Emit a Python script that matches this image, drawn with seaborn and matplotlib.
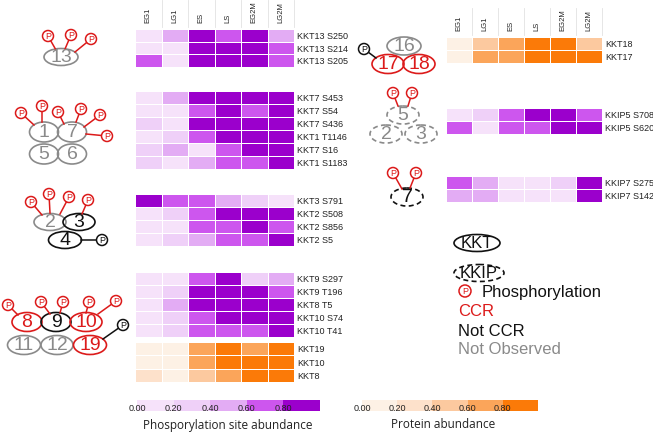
import matplotlib.pyplot as plt
import matplotlib.patches as mpatches
from matplotlib.colors import ListedColormap, Normalize
from matplotlib.cm import ScalarMappable
import pandas as pd
import seaborn as sns

# ---- data (binned abundance, 0..1) ----
phases = ['EG1', 'LG1', 'ES', 'LS', 'EG2M', 'LG2M']

kkt13_sites = ['KKT13 S250', 'KKT13 S214', 'KKT13 S205']
kkt13_vals = [[0.1, 0.5, 0.9, 0.7, 0.9, 0.5],
              [0.1, 0.1, 0.9, 0.9, 0.9, 0.7],
              [0.7, 0.1, 0.9, 0.9, 0.9, 0.7]]

kkt17_sites = ['KKT7 S453', 'KKT7 S54', 'KKT7 S436', 'KKT1 T1146', 'KKT7 S16', 'KKT1 S1183']
kkt17_vals = [[0.1, 0.5, 0.9, 0.9, 0.9, 0.9],
              [0.1, 0.1, 0.7, 0.9, 0.7, 0.9],
              [0.3, 0.1, 0.9, 0.9, 0.9, 0.9],
              [0.1, 0.3, 0.7, 0.9, 0.9, 0.9],
              [0.3, 0.5, 0.1, 0.7, 0.9, 0.9],
              [0.3, 0.1, 0.5, 0.7, 0.7, 0.9]]

kkt23_sites = ['KKT3 S791', 'KKT2 S508', 'KKT2 S856', 'KKT2 S5']
kkt23_vals = [[0.9, 0.7, 0.7, 0.5, 0.3, 0.1],
              [0.1, 0.3, 0.7, 0.9, 0.9, 0.9],
              [0.1, 0.1, 0.7, 0.7, 0.9, 0.7],
              [0.1, 0.3, 0.5, 0.7, 0.7, 0.9]]

kkt810_sites = ['KKT9 S297', 'KKT9 T196', 'KKT8 T5', 'KKT10 S74', 'KKT10 T41']
kkt810_vals = [[0.1, 0.1, 0.7, 0.9, 0.3, 0.5],
               [0.1, 0.3, 0.9, 0.9, 0.9, 0.7],
               [0.1, 0.5, 0.9, 0.9, 0.9, 0.9],
               [0.1, 0.3, 0.7, 0.9, 0.9, 0.9],
               [0.1, 0.3, 0.7, 0.7, 0.7, 0.9]]

kkt810_prot = ['KKT19', 'KKT10', 'KKT8']
kkt810_prot_vals = [[0.1, 0.1, 0.7, 0.9, 0.7, 0.9],
                    [0.1, 0.1, 0.7, 0.9, 0.9, 0.9],
                    [0.3, 0.1, 0.5, 0.7, 0.9, 0.9]]

kkt1718_prot = ['KKT18', 'KKT17']
kkt1718_prot_vals = [[0.1, 0.5, 0.7, 0.9, 0.9, 0.5],
                     [0.1, 0.7, 0.7, 0.9, 0.9, 0.9]]

kkip5_sites = ['KKIP5 S708', 'KKIP5 S620']
kkip5_vals = [[0.1, 0.3, 0.7, 0.9, 0.9, 0.7],
              [0.7, 0.1, 0.7, 0.7, 0.9, 0.9]]

kkip7_sites = ['KKIP7 S275', 'KKIP7 S142']
kkip7_vals = [[0.7, 0.5, 0.1, 0.1, 0.3, 0.9],
              [0.5, 0.5, 0.1, 0.1, 0.1, 0.9]]

cbar_ticks = [0.0, 0.2, 0.4, 0.6, 0.8]

# ---- style ----
purples = ListedColormap(['#f6e2fa', '#efd0f8', '#e3acf4', '#cd56ee', '#9b00cc'])
oranges = ListedColormap(['#fdf1e5', '#fde1cb', '#fcc99f', '#fba55a', '#fb7a08'])
RED, GREY, BLACK = '#dc1a1a', '#8a8a8a', '#111111'
FONT = 'Liberation Sans'

W, H = 653, 432
fig = plt.figure(figsize=(W / 100, H / 100), dpi=100)
plt.rcParams['font.family'] = [FONT, 'DejaVu Sans']


def px_axes(x0, y0, x1, y1):
    return fig.add_axes([x0 / W, 1 - y1 / H, (x1 - x0) / W, (y1 - y0) / H])


def heat(vals, rows, box, cmap, header=False):
    ax = px_axes(*box)
    df = pd.DataFrame(vals, index=rows, columns=phases)
    sns.heatmap(df, ax=ax, cmap=cmap, vmin=0, vmax=1, cbar=False,
                linewidths=0.6, linecolor='white',
                xticklabels=True, yticklabels=True)
    ax.yaxis.tick_right()
    ax.tick_params(axis='y', length=0, pad=2, labelsize=6.5, labelcolor='#222222')
    plt.setp(ax.get_yticklabels(), rotation=0)
    if header:
        ax.xaxis.tick_top()
        ax.tick_params(axis='x', length=0, pad=4, labelsize=5.5, labelcolor='#222222')
        plt.setp(ax.get_xticklabels(), rotation=90)
    else:
        ax.set_xticks([])
    ax.set_xlabel('')
    ax.set_ylabel('')
    return ax


# left column
heat(kkt13_vals, kkt13_sites, (135, 29, 294, 67), purples, header=True)
heat(kkt17_vals, kkt17_sites, (135, 91, 294, 169), purples)
heat(kkt23_vals, kkt23_sites, (135, 194, 294, 246), purples)
heat(kkt810_vals, kkt810_sites, (135, 272, 294, 337), purples)
heat(kkt810_prot_vals, kkt810_prot, (135, 342, 294, 382), oranges)
# right column
heat(kkt1718_prot_vals, kkt1718_prot, (446, 37, 602, 63), oranges, header=True)
heat(kkip5_vals, kkip5_sites, (446, 108, 602, 134), purples)
heat(kkip7_vals, kkip7_sites, (446, 176, 602, 202), purples)

# colorbars
for cmap, box, label, lx in [(purples, (137, 400, 320, 411), 'Phosporylation site abundance', 228),
                             (oranges, (362, 400, 538, 411), 'Protein abundance', 443)]:
    cax = px_axes(*box)
    cb = fig.colorbar(ScalarMappable(norm=Normalize(0, 1), cmap=cmap), cax=cax,
                      orientation='horizontal', ticks=cbar_ticks, format='%.2f')
    cb.outline.set_visible(False)
    cax.tick_params(length=0, pad=-5, labelsize=6.5, labelcolor='#222222')
    fig.text(lx / W, 1 - 425 / H, label, ha='center', va='center',
             fontsize=8.5, family=['Open Sans', 'DejaVu Sans'], color='#222222')

# ---- overlay for the complex diagrams ----
ov = fig.add_axes([0, 0, 1, 1])
ov.set_xlim(0, W)
ov.set_ylim(H, 0)
ov.axis('off')
ov.set_zorder(10)
ov.patch.set_alpha(0)

# header guide lines
for x0, step, top, bot in [(135, 26.5, 0, 27), (446, 26, 8, 35)]:
    for k in range(1, 7):
        ov.plot([x0 + k * step] * 2, [top, bot], color='#e2e2e2', lw=0.6)


def sub(x, y, label, color, w=30, h=18, dashed=False, fs=14):
    ls = (0, (3, 2)) if dashed else '-'
    ov.add_patch(mpatches.Ellipse((x, y), w, h, fill=False, ec=color, lw=1.2, ls=ls))
    ov.text(x, y + 0.5, label, color=color, fontsize=fs, ha='center', va='center')


def phos(x, y, tx, ty, color=RED, r=5.5):
    ov.plot([x, tx], [y, ty], color=color, lw=1.1)
    ov.add_patch(mpatches.Circle((x, y), r, fc='white', ec=color, lw=1.1, zorder=3))
    ov.text(x, y + 0.3, 'P', color=color, fontsize=6.5, ha='center', va='center', zorder=4)


# KKT13
phos(48, 36, 56, 50); phos(71, 35, 65, 49); phos(91, 39, 75, 52)
sub(61, 57, '13', GREY, w=34, h=17)

# KKT1/7/5/6
phos(21, 113, 34, 125); phos(42, 106, 42, 122); phos(58, 112, 64, 124)
phos(81, 109, 76, 122); phos(100, 115, 84, 127); phos(107, 136, 86, 134)
sub(44, 132, '1', GREY, w=29, h=20); sub(72, 132, '7', GREY, w=29, h=20)
sub(44, 154, '5', GREY, w=29, h=20); sub(72, 154, '6', GREY, w=29, h=20)

# KKT2/3/4
phos(31, 202, 42, 215); phos(49, 194, 50, 213); phos(69, 197, 60, 214); phos(88, 200, 82, 214)
phos(102, 240, 81, 240, color=BLACK)
sub(50, 222, '2', GREY, w=32, h=17); sub(79, 222, '3', BLACK, w=32, h=17)
sub(65, 240, '4', BLACK, w=33, h=17)

# KKT8/9/10/11/12/19
phos(8, 305, 18, 315); phos(41, 302, 50, 314); phos(63, 302, 60, 313)
phos(89, 302, 86, 313); phos(116, 301, 98, 314)
phos(123, 325, 103, 339, color=BLACK)
sub(27, 322, '8', RED, w=30, h=19); sub(56, 322, '9', BLACK, w=30, h=19)
sub(86, 322, '10', RED, w=32, h=19)
sub(24, 345, '11', GREY, w=33, h=19); sub(57, 345, '12', GREY, w=32, h=19)
sub(90, 345, '19', RED, w=33, h=19)

# KKT16/17/18
phos(364, 49, 376, 58, color=BLACK)
sub(404, 46, '16', GREY, w=34, h=18)
sub(388, 64, '17', RED, w=32, h=19); sub(419, 64, '18', RED, w=32, h=19)

# KKIP2/3/5
phos(393, 93, 398, 106); phos(412, 93, 408, 106)
sub(403, 115, '5', GREY, w=32, h=18, dashed=True)
sub(386, 134, '2', GREY, w=32, h=18, dashed=True)
sub(421, 134, '3', GREY, w=32, h=18, dashed=True)

# KKIP7
phos(393, 173, 402, 189); phos(416, 173, 410, 188)
sub(407, 197, '7', BLACK, w=32, h=18, dashed=True)

# legend
sub(477, 243, 'KKT', BLACK, w=46, h=17, fs=12)
sub(479, 273, 'KKIP', BLACK, w=50, h=17, fs=12, dashed=True)
ov.add_patch(mpatches.Circle((465, 291), 6, fc='white', ec=RED, lw=1.1))
ov.text(465, 291.3, 'P', color=RED, fontsize=6.5, ha='center', va='center')
ov.text(482, 292, 'Phosphorylation', color=BLACK, fontsize=12, va='center')
ov.text(458, 312, 'CCR', color=RED, fontsize=12, va='center')
ov.text(458, 331, 'Not CCR', color=BLACK, fontsize=12, va='center')
ov.text(458, 350, 'Not Observed', color=GREY, fontsize=12, va='center')

fig.savefig('out.png', dpi=100)
